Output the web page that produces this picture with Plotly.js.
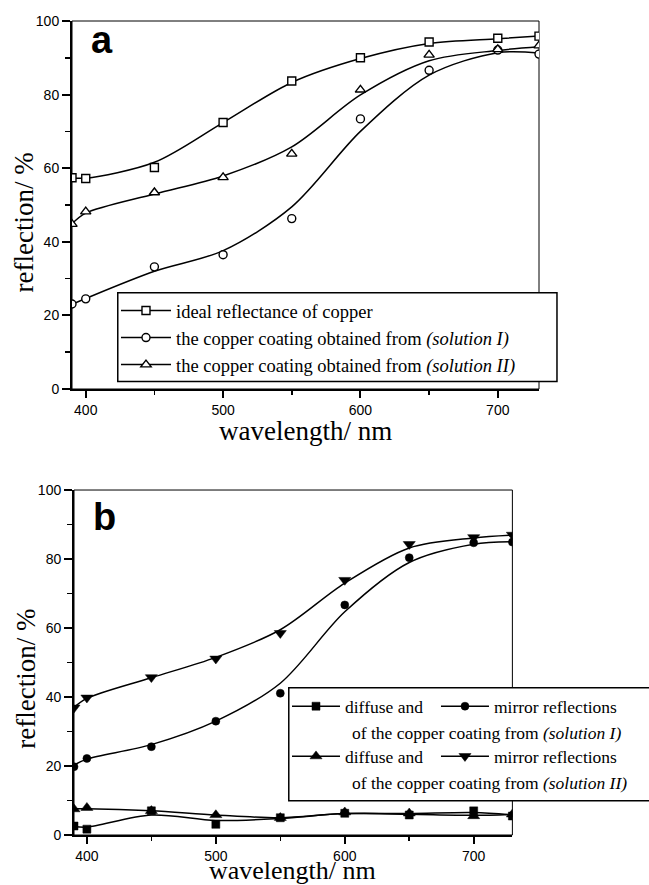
<!DOCTYPE html>
<html>
<head>
<meta charset="utf-8">
<script src="https://cdn.plot.ly/plotly-3.0.1.min.js"></script>
<style>html,body{margin:0;padding:0;background:#fff;}#chart{width:649px;height:885px;}</style>
</head>
<body>
<div id="chart"></div>
<script>
// ---- data ----
const waves = [390, 400, 450, 500, 550, 600, 650, 700, 730];

// panel a
const idealPts  = [57.4, 57.2, 60.2, 72.4, 83.7, 90.0, 94.3, 95.3, 95.9];
const idealFit  = [57.4, 57.3, 61.6, 72.4, 83.3, 89.8, 93.9, 95.2, 95.9];
const solIPts   = [23.1, 24.5, 33.2, 36.5, 46.3, 73.4, 86.6, 92.1, 91.0];
const solIFit   = [23.0, 24.6, 32.0, 37.6, 49.5, 70.0, 85.3, 91.4, 91.3];
const solIIPts  = [44.8, 48.2, 53.4, 57.5, 63.9, 81.3, 90.8, 92.3, 93.3];
const solIIFit  = [44.9, 47.8, 53.0, 57.9, 65.8, 79.9, 89.2, 92.0, 93.0];

// panel b
const mirrorIPts   = [19.8, 22.2, 25.6, 33.0, 41.1, 66.7, 80.4, 84.7, 84.9];
const mirrorIFit   = [20.3, 22.0, 26.2, 33.0, 44.0, 64.7, 79.0, 84.3, 85.0];
const mirrorIIPts  = [36.9, 39.8, 45.7, 51.1, 58.5, 73.9, 84.3, 86.3, 87.0];
const mirrorIIFit  = [37.0, 39.6, 45.6, 51.5, 59.5, 73.0, 83.2, 86.1, 86.9];
const diffuseIPts  = [2.6, 1.7, 7.0, 3.1, 5.0, 6.3, 5.8, 7.0, 5.5];
const diffuseIFit  = [2.5, 2.3, 5.8, 4.2, 4.8, 6.2, 6.2, 6.5, 5.8];
const diffuseIIPts = [7.5, 7.9, 7.0, 5.8, 5.0, 6.6, 6.3, 5.5, 6.0];
const diffuseIIFit = [7.6, 7.6, 7.0, 5.8, 5.0, 6.2, 6.0, 5.7, 6.0];

const legendA = [
  'ideal reflectance of copper',
  'the copper coating obtained from <i>(solution I)</i>',
  'the copper coating obtained from <i>(solution II)</i>'
];
const legendB = ['diffuse and', 'mirror reflections'];
const legendBRowI  = 'of the copper coating from <i>(solution I)</i>';
const legendBRowII = 'of the copper coating from <i>(solution II)</i>';
const xTitle = 'wavelength/ nm';
const yTitle = 'reflection/ %';

// ---- styles ----
const SERIF = 'Liberation Serif, Times New Roman, serif';
const SANS = 'Liberation Sans, Arial, sans-serif';
const lineStyle = {color: 'black', width: 1.5, shape: 'spline', smoothing: 0.9};

function fit(x, y, xa, ya) {
  return {x: x, y: y, xaxis: xa, yaxis: ya, mode: 'lines', line: lineStyle,
          showlegend: false, hoverinfo: 'skip'};
}
function pts(x, y, xa, ya, marker) {
  return {x: x, y: y, xaxis: xa, yaxis: ya, mode: 'markers', marker: marker,
          showlegend: false};
}
function leg(name, marker, legendId) {
  return {x: [null], y: [null], xaxis: 'x', yaxis: 'y', mode: 'lines+markers',
          name: name, marker: marker, line: {color: 'black', width: 1.5},
          showlegend: true, legend: legendId};
}

const mSqO  = {symbol: 'square', size: 8, color: 'white', line: {color: 'black', width: 1.4}};
const mCiO  = {symbol: 'circle', size: 8, color: 'white', line: {color: 'black', width: 1.4}};
const mTrO  = {symbol: 'triangle-up', size: 9, color: 'white', line: {color: 'black', width: 1.4}};
const mSqF  = {symbol: 'square', size: 8, color: 'black', line: {color: 'black', width: 0.5}};
const mCiF  = {symbol: 'circle', size: 8, color: 'black', line: {color: 'black', width: 0.5}};
const mTuF  = {symbol: 'triangle-up', size: 10.5, color: 'black', line: {color: 'black', width: 0.5}};
const mTdF  = {symbol: 'triangle-down', size: 10.5, color: 'black', line: {color: 'black', width: 0.5}};

const traces = [
  fit(waves, idealFit, 'x', 'y'), fit(waves, solIFit, 'x', 'y'), fit(waves, solIIFit, 'x', 'y'),
  pts(waves, idealPts, 'x', 'y', mSqO), pts(waves, solIPts, 'x', 'y', mCiO), pts(waves, solIIPts, 'x', 'y', mTrO),
  fit(waves, mirrorIFit, 'x2', 'y2'), fit(waves, mirrorIIFit, 'x2', 'y2'),
  fit(waves, diffuseIFit, 'x2', 'y2'), fit(waves, diffuseIIFit, 'x2', 'y2'),
  pts(waves, mirrorIPts, 'x2', 'y2', mCiF), pts(waves, mirrorIIPts, 'x2', 'y2', mTdF),
  pts(waves, diffuseIPts, 'x2', 'y2', mSqF), pts(waves, diffuseIIPts, 'x2', 'y2', mTuF),
  leg(legendA[0], mSqO, 'legend'), leg(legendA[1], mCiO, 'legend'), leg(legendA[2], mTrO, 'legend'),
  leg(legendB[0], mSqF, 'legend2'), leg(legendB[1], mCiF, 'legend3'),
  leg(legendB[0], mTuF, 'legend4'), leg(legendB[1], mTdF, 'legend5')
];

function xax(domain, anchor) {
  return {domain: domain, anchor: anchor, range: [390, 730], tickmode: 'linear', tick0: 400, dtick: 100,
          ticks: 'outside', ticklen: 7, tickwidth: 2, tickcolor: 'black',
          showline: true, linewidth: 2, linecolor: 'black', showgrid: false, zeroline: false,
          tickfont: {family: SANS, size: 14, color: 'black'},
          minor: {tick0: 400, dtick: 50, ticks: 'outside', ticklen: 4, tickwidth: 1.5, tickcolor: 'black', showgrid: false},
          fixedrange: true};
}
function yax(domain, anchor) {
  return {domain: domain, anchor: anchor, range: [0, 100], tickmode: 'linear', tick0: 0, dtick: 20,
          ticks: 'outside', ticklen: 8, tickwidth: 2, tickcolor: 'black',
          showline: true, linewidth: 2, linecolor: 'black', showgrid: false, zeroline: false,
          tickfont: {family: SANS, size: 14, color: 'black'},
          minor: {tick0: 0, dtick: 10, ticks: 'outside', ticklen: 5, tickwidth: 1.5, tickcolor: 'black', showgrid: false},
          fixedrange: true};
}
function hleg(x, y) {
  return {x: x, y: y, xanchor: 'left', yanchor: 'top', orientation: 'h',
          bgcolor: 'rgba(0,0,0,0)', borderwidth: 0, itemwidth: 48,
          font: {family: SERIF, size: 17.5, color: 'black'}};
}

const layout = {
  width: 649, height: 885, autosize: false,
  margin: {l: 72, r: 110, t: 21, b: 50, autoexpand: false},
  paper_bgcolor: 'white', plot_bgcolor: 'white',
  showlegend: true,
  xaxis: xax([0, 1], 'y'),
  yaxis: yax([0.5479, 1], 'x'),
  xaxis2: xax([0.0043, 0.943], 'y2'),
  yaxis2: yax([0, 0.4238], 'x2'),
  legend: {x: 0.0942, y: 0.6671, xanchor: 'left', yanchor: 'top', orientation: 'v',
           bgcolor: 'rgba(0,0,0,0)', borderwidth: 0, itemwidth: 50,
           font: {family: SERIF, size: 18.5, color: 'black'}},
  legend2: hleg(0.4604, 0.1802),
  legend3: hleg(0.7794, 0.1802),
  legend4: hleg(0.4604, 0.1188),
  legend5: hleg(0.7794, 0.1188),
  shapes: [
    {type: 'rect', xref: 'x domain', yref: 'y domain', x0: 0, x1: 1, y0: 0, y1: 1,
     line: {color: 'black', width: 1}, layer: 'below'},
    {type: 'rect', xref: 'x2 domain', yref: 'y2 domain', x0: 0, x1: 1, y0: 0, y1: 1,
     line: {color: 'black', width: 1}, layer: 'below'},
    {type: 'rect', xref: 'paper', yref: 'paper', x0: 0.098, x1: 1.0385, y0: 0.557, y1: 0.6662,
     line: {color: 'black', width: 1.5}, fillcolor: 'white', layer: 'above'},
    {type: 'rect', xref: 'paper', yref: 'paper', x0: 0.4642, x1: 1.26, y0: 0.0421, y1: 0.181,
     line: {color: 'black', width: 1.5}, fillcolor: 'white', layer: 'above'}
  ],
  annotations: [
    {text: 'a', xref: 'paper', yref: 'paper', x: 0.0364, y: 0.9767, xanchor: 'left', yanchor: 'middle',
     showarrow: false, font: {family: SANS, size: 38, color: 'black', weight: 'bold'}},
    {text: 'b', xref: 'paper', yref: 'paper', x: 0.0407, y: 0.3907, xanchor: 'left', yanchor: 'middle',
     showarrow: false, font: {family: SANS, size: 38, color: 'black', weight: 'bold'}},
    {text: xTitle, xref: 'paper', yref: 'paper', x: 0.5, y: 0.4963, xanchor: 'center', yanchor: 'middle',
     borderpad: 0, showarrow: false, font: {family: SERIF, size: 27, color: 'black'}},
    {text: xTitle, xref: 'paper', yref: 'paper', x: 0.4711, y: -0.0442, xanchor: 'center', yanchor: 'middle',
     borderpad: 0, showarrow: false, font: {family: SERIF, size: 26, color: 'black'}},
    {text: yTitle, xref: 'paper', yref: 'paper', x: -0.1039, y: 0.7531, xanchor: 'center', yanchor: 'middle',
     textangle: -90, showarrow: false, font: {family: SERIF, size: 27, color: 'black'}},
    {text: yTitle, xref: 'paper', yref: 'paper', x: -0.0991, y: 0.1916, xanchor: 'center', yanchor: 'middle',
     textangle: -90, showarrow: false, font: {family: SERIF, size: 27, color: 'black'}},
    {text: legendBRowI, xref: 'paper', yref: 'paper', x: 0.5953, y: 0.1253, xanchor: 'left', yanchor: 'middle',
     showarrow: false, font: {family: SERIF, size: 17.5, color: 'black'}},
    {text: legendBRowII, xref: 'paper', yref: 'paper', x: 0.5953, y: 0.0639, xanchor: 'left', yanchor: 'middle',
     showarrow: false, font: {family: SERIF, size: 17.5, color: 'black'}}
  ]
};

Plotly.newPlot('chart', traces, layout, {displayModeBar: false, staticPlot: true});
</script>
</body>
</html>
